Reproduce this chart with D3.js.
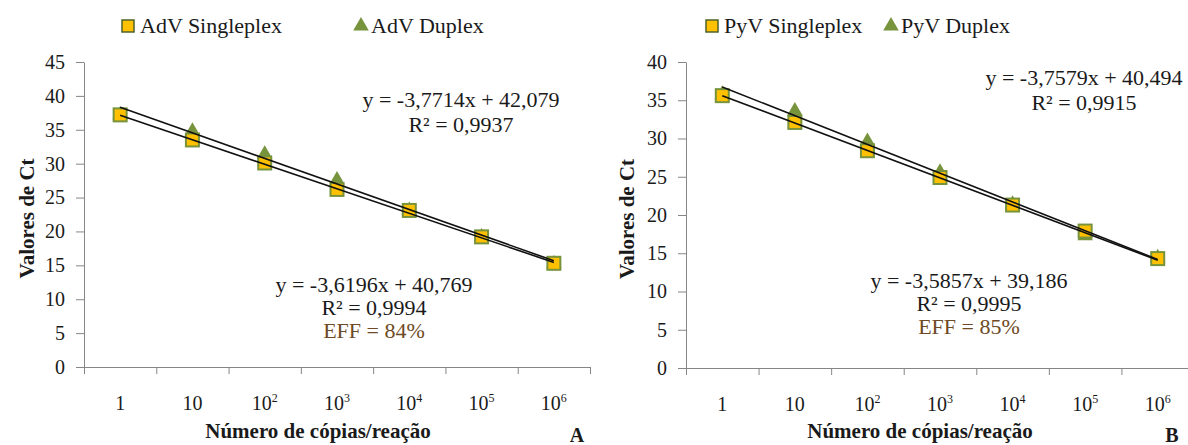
<!DOCTYPE html>
<html>
<head>
<meta charset="utf-8">
<script src="https://cdn.jsdelivr.net/npm/d3@7"></script>
<style>
  body { margin: 0; background: #fff; }
  text { font-family: "Liberation Serif", "Times New Roman", serif; fill: #1a1a1a; }
  .axis path, .axis line { stroke: #868686; }
</style>
</head>
<body>
<script>
const width = 1188;
const height = 445;

// categories (copies / reaction) as base + exponent
const categories = ["1", "10", "10^2", "10^3", "10^4", "10^5", "10^6"];

// Ct values
const advSingleplex = [37.2, 33.5, 30.1, 26.2, 23.1, 19.2, 15.3];
const advDuplex = [37.2, 34.8, 31.4, 27.6, 23.1, 19.2, 15.2];
const pyvSingleplex = [35.6, 32.1, 28.4, 24.9, 21.3, 17.9, 14.3];
const pyvDuplex = [35.8, 33.6, 29.6, 25.6, 21.4, 17.3, 14.4];

// trendline coefficients [slope, intercept], x = 1..7
const advSingleTrend = [-3.6196, 40.769];
const advDuplexTrend = [-3.7714, 42.079];
const pyvSingleTrend = [-3.5857, 39.186];
const pyvDuplexTrend = [-3.7579, 40.494];

const advUpperLabels = ["y = -3,7714x + 42,079", "R\u00b2 = 0,9937"];
const advLowerLabels = ["y = -3,6196x + 40,769", "R\u00b2 = 0,9994", "EFF = 84%"];
const pyvUpperLabels = ["y = -3,7579x + 40,494", "R\u00b2 = 0,9915"];
const pyvLowerLabels = ["y = -3,5857x + 39,186", "R\u00b2 = 0,9995", "EFF = 85%"];

const yTicksA = d3.range(0, 46, 5);
const yTicksB = d3.range(0, 41, 5);

const gold = "#FFC000";
const green = "#77933C";

const svg = d3
  .select("body")
  .append("svg")
  .attr("width", width)
  .attr("height", height);

const drawPanel = (p) => {
  const g = svg.append("g");

  const yScale = d3.scaleLinear().domain([0, p.yMax]).range([p.yBottom, p.yTop]);
  const band = d3.scaleBand().domain(categories).range([p.x0, p.x1]).padding(0);
  const bounds = d3.scaleLinear().domain([0, categories.length]).range([p.x0, p.x1]);
  const cx = (i) => band(categories[i]) + band.bandwidth() / 2;

  // Y axis
  const yAxis = d3
    .axisLeft(yScale)
    .tickValues(p.yTicks)
    .tickSize(8)
    .tickSizeOuter(0)
    .tickPadding(11);
  g.append("g")
    .attr("class", "axis")
    .attr("transform", `translate(${p.x0}, 0)`)
    .call(yAxis)
    .selectAll("text")
    .style("font-size", "20px")
    .style("font-family", "Liberation Serif")
    .style("fill", "#1a1a1a");

  // X axis: tick marks between categories
  g.append("g")
    .attr("class", "axis")
    .attr("transform", `translate(0, ${p.yBottom})`)
    .call(
      d3
        .axisBottom(bounds)
        .tickValues(d3.range(0, categories.length + 1))
        .tickFormat("")
        .tickSize(7)
        .tickSizeOuter(0)
    );

  // X labels with superscripts
  const xLabels = g
    .append("g")
    .selectAll("text")
    .data(categories)
    .enter()
    .append("text")
    .attr("x", (d, i) => cx(i))
    .attr("y", p.yBottom + 43)
    .attr("text-anchor", "middle")
    .style("font-size", "20px");
  xLabels.each(function (d) {
    const parts = d.split("^");
    const t = d3.select(this);
    t.append("tspan").text(parts[0]);
    if (parts[1]) {
      t.append("tspan")
        .attr("dy", -8)
        .style("font-size", "12px")
        .text(parts[1]);
    }
  });

  // markers: triangles below squares
  const tri = d3.symbol().type(d3.symbolTriangle).size(105);
  g.append("g")
    .selectAll("path")
    .data(p.duplex)
    .enter()
    .append("path")
    .attr("d", tri)
    .attr("transform", (d, i) => `translate(${cx(i)}, ${yScale(d)})`)
    .attr("fill", green);

  g.append("g")
    .selectAll("rect")
    .data(p.single)
    .enter()
    .append("rect")
    .attr("x", (d, i) => cx(i) - 6.5)
    .attr("y", (d) => yScale(d) - 6.5)
    .attr("width", 13)
    .attr("height", 13)
    .attr("fill", gold)
    .attr("stroke", green)
    .attr("stroke-width", 2);

  // trendlines, from x = 1 to x = 7
  [p.singleTrend, p.duplexTrend].forEach(([m, b]) => {
    g.append("line")
      .attr("x1", cx(0))
      .attr("x2", cx(categories.length - 1))
      .attr("y1", yScale(m * 1 + b))
      .attr("y2", yScale(m * categories.length + b))
      .attr("stroke", "#111")
      .attr("stroke-width", 1.6);
  });

  // equations
  const eq = (labels, x, y0, step) => {
    g.append("g")
      .selectAll("text")
      .data(labels)
      .enter()
      .append("text")
      .attr("x", x)
      .attr("y", (d, i) => y0 + i * step)
      .attr("text-anchor", "middle")
      .style("font-size", "22px")
      .style("fill", (d) => (d.startsWith("EFF") ? "#6e4a24" : "#1a1a1a"))
      .text((d) => d);
  };
  eq(p.upperLabels, p.upperX, p.upperY, 25);
  eq(p.lowerLabels, p.lowerX, p.lowerY, 23);

  // axis titles
  g.append("text")
    .attr("transform", `translate(${p.yTitleX}, ${(p.yTop + p.yBottom) / 2 + 4}) rotate(-90)`)
    .attr("text-anchor", "middle")
    .style("font-size", "21px")
    .style("font-weight", "bold")
    .text("Valores de Ct");

  g.append("text")
    .attr("x", p.xTitleX)
    .attr("y", 438)
    .attr("text-anchor", "middle")
    .style("font-size", "21px")
    .style("font-weight", "bold")
    .text("Número de cópias/reação");

  g.append("text")
    .attr("x", p.letterX)
    .attr("y", 442)
    .attr("text-anchor", "middle")
    .style("font-size", "20px")
    .style("font-weight", "bold")
    .text(p.letter);

  // legend
  const lg = g.append("g").attr("transform", "translate(0, 26)");
  lg.append("rect")
    .attr("x", p.legX[0])
    .attr("y", -6)
    .attr("width", 12)
    .attr("height", 12)
    .attr("fill", gold)
    .attr("stroke", "#4F6228")
    .attr("stroke-width", 1.5);
  lg.append("text")
    .attr("x", p.legX[0] + 18)
    .attr("y", 7)
    .style("font-size", "22px")
    .text(p.legendNames[0]);
  lg.append("path")
    .attr("d", tri)
    .attr("transform", `translate(${p.legX[1] + 7}, 0)`)
    .attr("fill", green);
  lg.append("text")
    .attr("x", p.legX[1] + 17)
    .attr("y", 7)
    .style("font-size", "22px")
    .text(p.legendNames[1]);
};

drawPanel({
  x0: 84,
  x1: 590,
  yTop: 62,
  yBottom: 367,
  yMax: 45,
  yTicks: yTicksA,
  single: advSingleplex,
  duplex: advDuplex,
  singleTrend: advSingleTrend,
  duplexTrend: advDuplexTrend,
  upperLabels: advUpperLabels,
  lowerLabels: advLowerLabels,
  upperX: 461,
  upperY: 107,
  lowerX: 374,
  lowerY: 292,
  yTitleX: 34,
  xTitleX: 318,
  letter: "A",
  letterX: 577,
  legX: [122, 354],
  legendNames: ["AdV Singleplex", "AdV Duplex"],
});

drawPanel({
  x0: 686,
  x1: 1194,
  yTop: 62,
  yBottom: 368,
  yMax: 40,
  yTicks: yTicksB,
  single: pyvSingleplex,
  duplex: pyvDuplex,
  singleTrend: pyvSingleTrend,
  duplexTrend: pyvDuplexTrend,
  upperLabels: pyvUpperLabels,
  lowerLabels: pyvLowerLabels,
  upperX: 1084,
  upperY: 85,
  lowerX: 969,
  lowerY: 288,
  yTitleX: 634,
  xTitleX: 920,
  letter: "B",
  letterX: 1172,
  legX: [706, 884],
  legendNames: ["PyV Singleplex", "PyV Duplex"],
});
</script>
</body>
</html>
